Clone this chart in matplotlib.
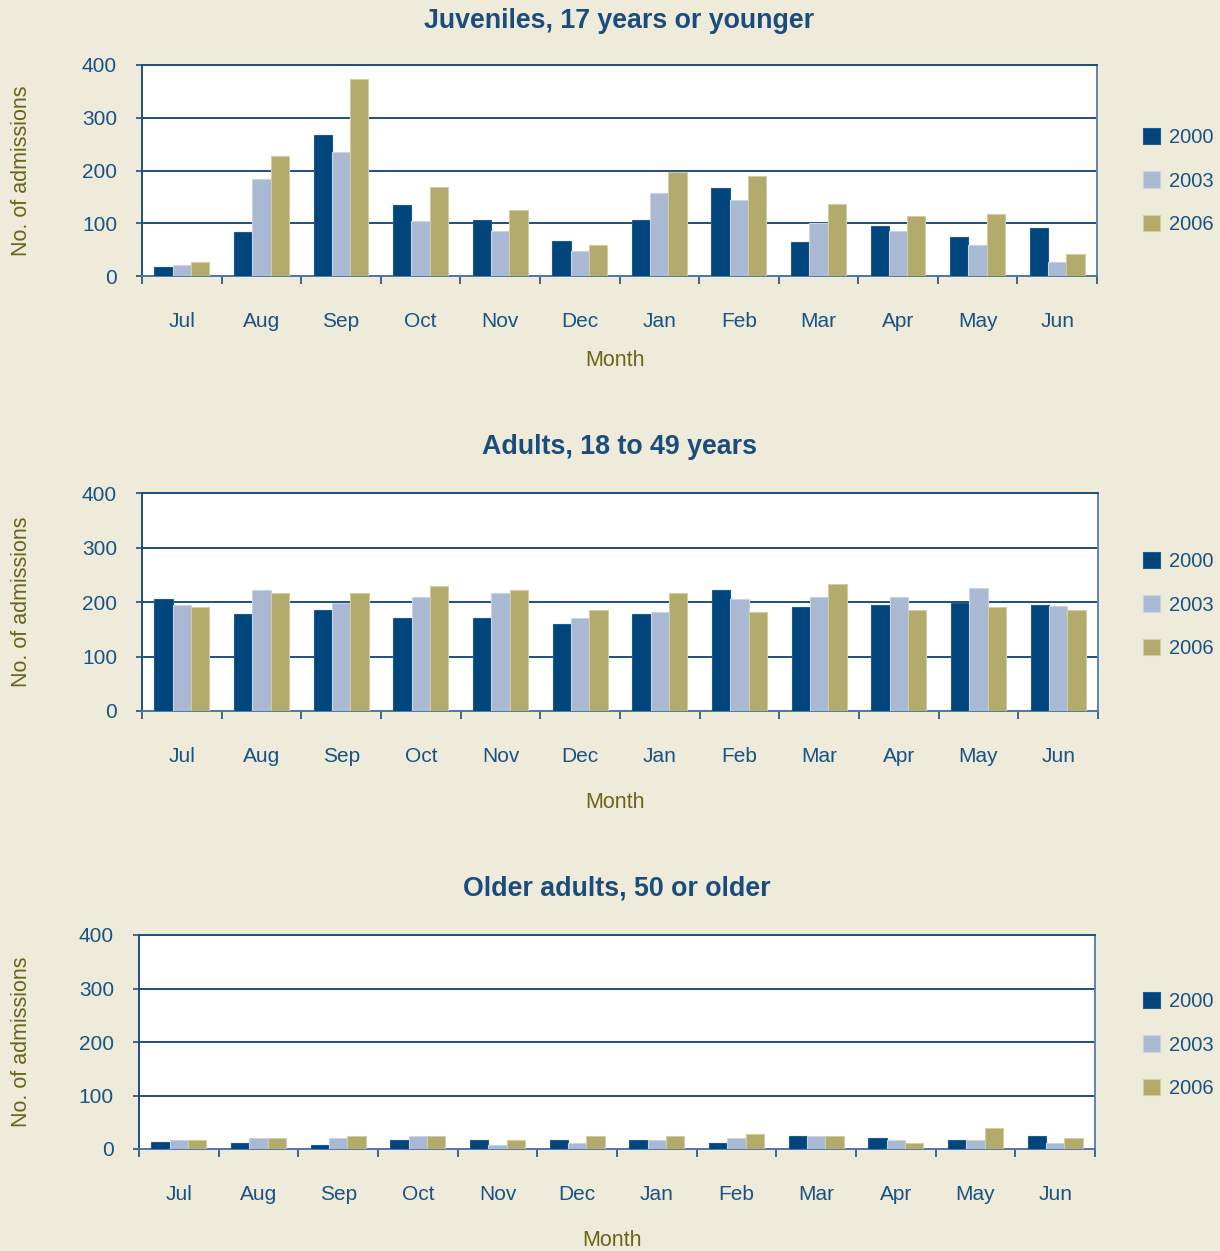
import matplotlib
matplotlib.use("Agg")
import matplotlib.pyplot as plt
import numpy as np

months = ["Jul", "Aug", "Sep", "Oct", "Nov", "Dec", "Jan", "Feb", "Mar", "Apr", "May", "Jun"]
years = ["2000", "2003", "2006"]

juv_2000 = [17, 84, 268, 134, 106, 66, 106, 166, 65, 95, 73, 91]
juv_2003 = [21, 184, 235, 105, 85, 47, 157, 144, 101, 85, 58, 26]
juv_2006 = [26, 227, 373, 168, 125, 58, 197, 189, 136, 113, 117, 42]

adu_2000 = [206, 178, 186, 171, 171, 160, 178, 222, 190, 194, 198, 194]
adu_2003 = [194, 222, 198, 209, 217, 171, 182, 206, 209, 209, 225, 193]
adu_2006 = [190, 217, 217, 229, 222, 186, 217, 182, 233, 185, 190, 185]

old_2000 = [14, 12, 8, 16, 16, 16, 16, 12, 24, 20, 16, 24]
old_2003 = [16, 20, 20, 24, 8, 12, 16, 20, 24, 16, 16, 12]
old_2006 = [16, 20, 24, 24, 16, 24, 24, 28, 24, 12, 39, 20]

titles = ["Juveniles, 17 years or younger", "Adults, 18 to 49 years", "Older adults, 50 or older"]
yticks = [0, 100, 200, 300, 400]

BG = "#EEEBDB"
C = ["#00457C", "#A9B9D4", "#B2AB6C"]
EDGE = ["#1F5A8E", "#C9D3E4", "#D2CDA0"]
BLUE = "#1A5283"
TITLE = "#1B4C7C"
OLIVE = "#6B6419"
GRID = "#1F4F7E"

plt.rcParams['font.family'] = ['Liberation Sans', 'DejaVu Sans']

W, H = 1220, 1251
fig = plt.figure(figsize=(W / 100, H / 100), dpi=100, facecolor=BG)

panels = [
    dict(data=[juv_2000, juv_2003, juv_2006], box=(142, 65, 1097, 276), title_y=21,
         month_y=360, leg_y=[137, 181, 224]),
    dict(data=[adu_2000, adu_2003, adu_2006], box=(142, 493, 1098, 711), title_y=447,
         month_y=803, leg_y=[561, 605, 649]),
    dict(data=[old_2000, old_2003, old_2006], box=(139, 935, 1095, 1149), title_y=889,
         month_y=1240, leg_y=[1001, 1045, 1089]),
]

x = np.arange(len(months))
bw = 0.23
for p, title in zip(panels, titles):
    l, t, r, b = p["box"]
    ax = fig.add_axes([l / W, 1 - b / H, (r - l) / W, (b - t) / H])
    ax.set_facecolor("white")
    handles = []
    for i, (vals, col, ec) in enumerate(zip(p["data"], C, EDGE)):
        bars = ax.bar(x + (i - 1) * bw, vals, width=bw, color=col, edgecolor=ec,
                      linewidth=0.8, zorder=3, label=years[i])
        handles.append(bars)
    ax.set_xlim(-0.5, 11.5)
    ax.set_ylim(0, 400)
    ax.set_yticks(yticks)
    ax.yaxis.grid(True, color=GRID, linewidth=1.4, zorder=1)
    ax.set_axisbelow(True)
    ax.set_xticks(x)
    ax.set_xticklabels(months)
    ax.set_xticks(np.arange(-0.5, 12, 1), minor=True)
    ax.tick_params(axis='x', which='major', length=0, pad=26, labelsize=15, labelcolor=BLUE)
    ax.tick_params(axis='x', which='minor', length=6, width=1.2, color=GRID, direction='out')
    ax.tick_params(axis='y', length=4, width=1.2, color=GRID, direction='out', pad=14,
                   labelsize=15, labelcolor=BLUE)
    for s in ["left", "bottom", "top"]:
        ax.spines[s].set_color(GRID)
        ax.spines[s].set_linewidth(1.4)
    ax.spines["right"].set_color("#5E84AE")
    ax.spines["right"].set_linewidth(1.4)
    ax.spines["bottom"].set_color("#4F7AA6")
    fig.text(0.5 * (l + r) / W, 1 - p["title_y"] / H, title, ha='center', va='center',
             fontsize=19.3, fontweight='bold', color=TITLE)
    fig.text(0.5 * (l + r) / W - 0.004, 1 - p["month_y"] / H, "Month", ha='center', va='center',
             fontsize=15.5, color=OLIVE)
    fig.text(22 / W, 1 - (0.5 * (t + b)) / H, "No. of admissions", rotation=90,
             ha='center', va='center', fontsize=15.5, color=OLIVE)
    leg = ax.legend(handles, years, loc='center left',
                    bbox_to_anchor=(1125 / W, 1 - p["leg_y"][1] / H),
                    bbox_transform=fig.transFigure, frameon=False, fontsize=14.5,
                    handlelength=0.85, handleheight=0.85, handletextpad=0.45,
                    labelspacing=1.2)
    for txt in leg.get_texts():
        txt.set_color(BLUE)

fig.savefig("out.png", dpi=100, facecolor=BG)
